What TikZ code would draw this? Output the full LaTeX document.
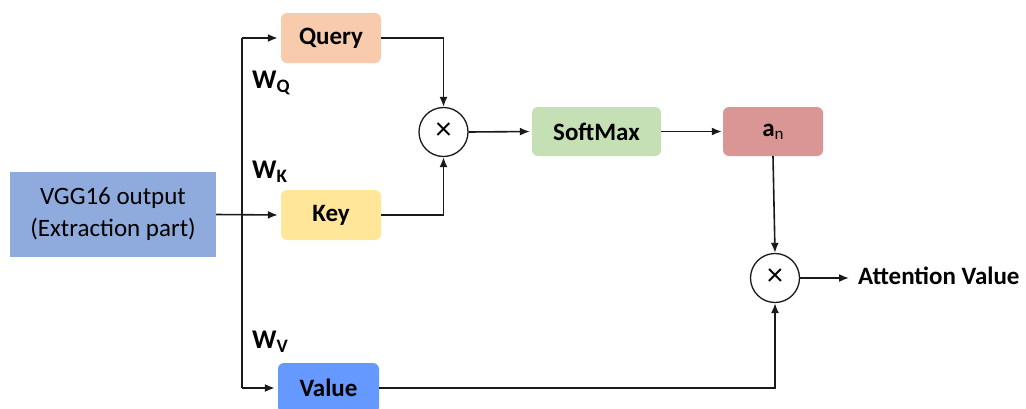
\documentclass[tikz,border=0pt]{standalone}
\usepackage{fontspec}
\setmainfont{Carlito}
\usetikzlibrary{arrows.meta}
\definecolor{vggc}{HTML}{8FAADC}
\definecolor{qc}{HTML}{F8CBAD}
\definecolor{kc}{HTML}{FFE699}
\definecolor{vc}{HTML}{6699FF}
\definecolor{sc}{HTML}{C5E0B4}
\definecolor{ac}{HTML}{D99694}
\definecolor{linec}{HTML}{1A1A1A}
\tikzset{
  box/.style={rounded corners=6pt, inner sep=0pt, minimum width=100pt, minimum height=50pt, font=\fontsize{25}{28}\selectfont\bfseries, text=black},
  mult/.style={circle, draw=linec, line width=1.3pt, fill=white, minimum size=49pt, inner sep=0pt, font=\fontsize{32}{34}\selectfont},
  arr/.style={line width=1.6pt, draw=linec, -{Latex[length=10pt,width=8pt]}},
  ln/.style={line width=1.6pt, draw=linec},
  wlab/.style={anchor=base west, inner sep=0pt, font=\fontsize{27}{30}\selectfont\bfseries},
}
\begin{document}
\begin{tikzpicture}[x=1pt,y=-1pt]
\useasboundingbox (0,0) rectangle (1026,408);
\clip (0,0) rectangle (1026,408);
\node[fill=vggc, inner sep=0pt, minimum width=206pt, minimum height=85pt, align=center, font=\fontsize{25}{32}\selectfont] (vgg) at (113,214.5) {VGG16 output\\(Extraction part)};
\node[box, fill=qc] (query) at (331,38) {Query};
\node[box, fill=kc] (key) at (331,215) {Key};
\node[box, fill=vc, minimum width=101pt] (value) at (328.5,388) {Value};
\node[mult] (m1) at (443.5,132) {\raisebox{2pt}{×}};
\node[box, fill=sc, minimum width=129pt, minimum height=49pt] (soft) at (596.5,131.5) {SoftMax};
\node[box, fill=ac, minimum height=49pt] (an) at (773,131.5) {a\raisebox{-3pt}{\fontsize{17}{18}\selectfont\mdseries n}};
\node[mult] (m2) at (775,278) {\raisebox{2pt}{×}};
\node[anchor=west, inner sep=0pt, font=\fontsize{25}{28}\selectfont\bfseries] (att) at (858,276) {Attention Value};
\node[wlab] (wq) at (252,88) {W\raisebox{-4pt}{\fontsize{19}{20}\selectfont Q}};
\node[wlab] (wk) at (252,178) {W\raisebox{-4pt}{\fontsize{19}{20}\selectfont K}};
\node[wlab] (wv) at (252,348) {W\raisebox{-4pt}{\fontsize{19}{20}\selectfont V}};
\coordinate (tq) at (242,38);
\coordinate (tv) at (242,388);
\coordinate (outc) at (849,278);
\draw[ln] (tq) -- (tv);
\draw[arr, shorten >=3pt] (tq) -- (query.west);
\draw[arr, shorten >=3pt] (tv) -- (value.west);
\draw[arr, shorten >=3pt] (vgg.east) -- (key.west);
\draw[arr] (query.east) -| (m1.north);
\draw[arr] (key.east) -| (m1.south);
\draw[arr, shorten >=2pt] (m1.east) -- (soft.west);
\draw[arr, shorten >=1pt] (soft.east) -- (an.west);
\draw[arr] (an.south) -- (m2.north);
\draw[arr] (value.east) -| (m2.south);
\draw[arr] (m2.east) -- (outc);
\end{tikzpicture}
\end{document}
